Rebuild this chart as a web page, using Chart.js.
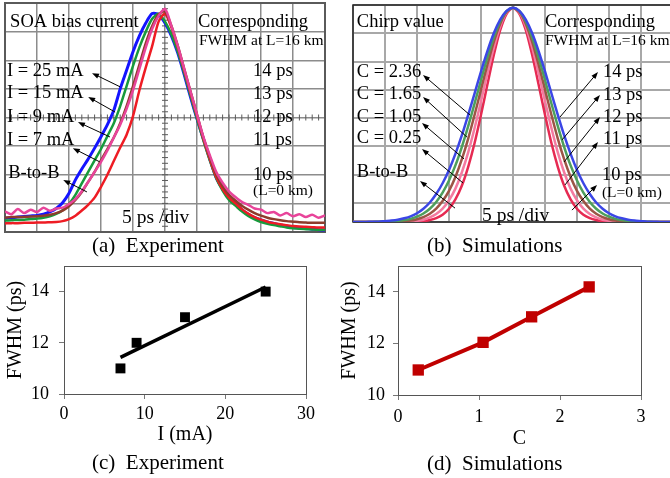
<!DOCTYPE html>
<html>
<head>
<meta charset="utf-8">
<script src="https://cdn.jsdelivr.net/npm/chart.js@4.4.1/dist/chart.umd.min.js"></script>
<style>
  html, body { margin: 0; padding: 0; background: #fff; }
  body { width: 670px; height: 478px; position: relative; overflow: hidden; font-family: "Liberation Serif", "Times New Roman", serif; }
  canvas { position: absolute; }
  .pie { position: absolute; font-size: 21px; line-height: 21px; white-space: pre; color: #000; }
</style>
</head>
<body>
<canvas id="grafA" width="335" height="240" style="left:0;top:0"></canvas>
<canvas id="grafB" width="345" height="240" style="left:335px;top:0"></canvas>
<canvas id="grafC" width="330" height="204" style="left:0;top:256px"></canvas>
<canvas id="grafD" width="335" height="204" style="left:335px;top:256px"></canvas>
<div class="pie" style="left:92px;top:235px">(a)  Experiment</div>
<div class="pie" style="left:427px;top:235px">(b)  Simulations</div>
<div class="pie" style="left:92px;top:452px">(c)  Experiment</div>
<div class="pie" style="left:427px;top:453px">(d)  Simulations</div>
<script>
// Eje de tiempo comun (ps), 5 ps por division
const tiempo = [-25,-24,-23,-22,-21,-20,-19,-18,-17,-16,-15,-14,-13,-12,-11,-10,-9,-8,-7,-6,-5,-4,-3,-2,-1,
  0,1,2,3,4,5,6,7,8,9,10,11,12,13,14,15,16,17,18,19,20,21,22,23,24,25];

// (a) Trazas medidas (divisiones verticales)
const medida25mA = [0.48,0.50,0.52,0.54,0.56,0.58,0.62,0.70,0.82,1.02,1.35,1.82,2.20,2.55,2.93,3.33,3.75,4.25,5.00,5.65,6.30,6.85,7.30,7.63,7.60,
  7.30,6.85,6.25,5.50,4.70,3.95,3.25,2.55,1.90,1.50,1.18,1.00,0.78,0.62,0.50,0.42,0.35,0.30,0.25,0.20,0.16,0.14,0.12,0.10,0.08,0.07];
const medida15mA = [0.40,0.41,0.42,0.43,0.45,0.47,0.50,0.55,0.63,0.76,0.98,1.30,1.70,2.10,2.50,2.90,3.35,3.80,4.40,5.10,5.80,6.45,7.00,7.45,7.62,
  7.35,6.90,6.30,5.55,4.75,3.95,3.20,2.50,1.88,1.45,1.12,0.92,0.72,0.56,0.44,0.35,0.29,0.24,0.20,0.16,0.13,0.11,0.10,0.09,0.08,0.08];
const medida9mA = [0.50,0.52,0.52,0.53,0.54,0.55,0.57,0.60,0.66,0.75,0.90,1.12,1.40,1.75,2.10,2.50,2.90,3.30,3.80,4.40,5.10,5.85,6.60,7.20,7.60,
  7.70,7.20,6.50,5.70,4.90,4.10,3.30,2.62,2.02,1.60,1.30,1.10,0.92,0.78,0.66,0.57,0.50,0.45,0.41,0.38,0.36,0.34,0.33,0.32,0.32,0.32];
const medida7mA = [0.72,0.62,0.80,0.66,0.78,0.70,0.85,0.74,0.82,0.85,0.98,1.15,1.42,1.75,2.10,2.45,2.85,3.30,3.75,4.30,4.95,5.70,6.45,7.10,7.55,
  7.80,7.20,6.50,5.70,4.90,4.10,3.32,2.68,2.10,1.72,1.42,1.22,1.05,0.95,0.82,0.78,0.66,0.70,0.58,0.66,0.55,0.62,0.52,0.60,0.50,0.58];
const medidaBtoB = [0.30,0.31,0.31,0.32,0.32,0.33,0.33,0.34,0.35,0.38,0.45,0.57,0.75,0.95,1.20,1.58,2.00,2.48,2.95,3.40,4.05,4.95,5.75,6.50,7.35,
  7.62,7.15,6.45,5.65,4.85,4.05,3.25,2.55,1.92,1.50,1.20,1.00,0.80,0.64,0.52,0.43,0.36,0.31,0.27,0.24,0.21,0.19,0.18,0.17,0.16,0.16];

// (b) Pulsos simulados (divisiones verticales)
const simC236 = [0.33,0.33,0.33,0.34,0.34,0.36,0.38,0.41,0.46,0.53,0.64,0.80,1.02,1.32,1.70,2.17,2.74,3.39,4.12,4.88,5.65,6.37,7.00,7.48,7.79,
  7.90,7.79,7.48,7.00,6.37,5.65,4.88,4.12,3.39,2.74,2.17,1.70,1.32,1.02,0.80,0.64,0.53,0.46,0.41,0.38,0.36,0.34,0.34,0.33,0.33,0.33];
const simC165 = [0.33,0.33,0.33,0.33,0.34,0.34,0.35,0.37,0.40,0.44,0.52,0.63,0.80,1.04,1.37,1.80,2.33,2.98,3.72,4.52,5.35,6.15,6.86,7.42,7.78,
  7.90,7.78,7.42,6.86,6.15,5.35,4.52,3.72,2.98,2.33,1.80,1.37,1.04,0.80,0.63,0.52,0.44,0.40,0.37,0.35,0.34,0.34,0.33,0.33,0.33,0.33];
const simC105 = [0.33,0.33,0.33,0.33,0.33,0.33,0.34,0.35,0.36,0.38,0.43,0.50,0.62,0.80,1.07,1.43,1.92,2.54,3.28,4.12,5.01,5.89,6.70,7.34,7.76,
  7.90,7.76,7.34,6.70,5.89,5.01,4.12,3.28,2.54,1.92,1.43,1.07,0.80,0.62,0.50,0.43,0.38,0.36,0.35,0.34,0.33,0.33,0.33,0.33,0.33,0.33];
const simC025 = [0.33,0.33,0.33,0.33,0.33,0.33,0.33,0.33,0.34,0.35,0.37,0.41,0.49,0.61,0.80,1.10,1.51,2.08,2.79,3.65,4.60,5.58,6.49,7.24,7.73,
  7.90,7.73,7.24,6.49,5.58,4.60,3.65,2.79,2.08,1.51,1.10,0.80,0.61,0.49,0.41,0.37,0.35,0.34,0.33,0.33,0.33,0.33,0.33,0.33,0.33,0.33];
const simBtoB = [0.33,0.33,0.33,0.33,0.33,0.33,0.33,0.33,0.33,0.34,0.35,0.36,0.40,0.47,0.59,0.80,1.13,1.61,2.28,3.12,4.12,5.19,6.23,7.11,7.69,
  7.90,7.69,7.11,6.23,5.19,4.12,3.12,2.28,1.61,1.13,0.80,0.59,0.47,0.40,0.36,0.35,0.34,0.33,0.33,0.33,0.33,0.33,0.33,0.33,0.33,0.33];

// (c) FWHM medido frente a corriente
const corriente = [7, 9, 15, 25];
const fwhmMedido = [11, 12, 13, 14];
const ajusteX = [7, 25];
const ajusteY = [11.43, 14.18];
const ticksCorriente = [0, 10, 20, 30];

// (d) FWHM simulado frente a chirp
const chirp = [0.25, 1.05, 1.65, 2.36];
const fwhmSimulado = [10.97, 12.04, 13.03, 14.19];
const ticksChirp = [0, 1, 2, 3];

const ticksFwhm = [10, 12, 14];

// Textos de las anotaciones
const textosA = ['SOA bias current', 'Corresponding', 'FWHM at L=16 km', 'I = 25 mA', 'I = 15 mA', 'I = 9 mA', 'I = 7 mA', 'B-to-B',
  '14 ps', '13 ps', '12 ps', '11 ps', '10 ps', '(L=0 km)', '5 ps /div'];
const textosB = ['Chirp value', 'Corresponding', 'FWHM at L=16 km', 'C = 2.36', 'C = 1.65', 'C = 1.05', 'C = 0.25', 'B-to-B',
  '14 ps', '13 ps', '12 ps', '11 ps', '10 ps', '(L=0 km)', '5 ps /div'];

// Posicion (unidades de los ejes) y tamaño de cada texto
const lugaresA = [[-24.2,7.16,18.5],[5.16,7.16,18.5],[5.3,6.53,15.5],[-24.7,5.45,18.5],[-24.7,4.68,18.5],[-24.7,3.84,18.5],[-24.7,3.04,18.5],[-24.5,1.89,18.5],
  [13.75,5.45,18.5],[13.75,4.65,18.5],[13.75,3.84,18.5],[13.75,3.04,18.5],[13.75,1.82,18.5],[13.75,1.29,15.5],[-6.7,0.31,19.5]];
const lugaresB = [[-24.4,7.22,18.5],[5.0,7.22,18.5],[5.0,6.59,15.5],[-24.4,5.45,18.5],[-24.4,4.68,18.5],[-24.4,3.86,18.5],[-24.4,3.12,18.5],[-24.4,1.92,18.5],
  [14.06,5.45,18.5],[14.06,4.64,18.5],[14.06,3.86,18.5],[14.06,3.09,18.5],[13.9,1.81,18.5],[13.9,1.21,15.5],[-4.84,0.36,19.5]];
// Flechas: punta x, punta y, cola x, cola y
const flechasA = [[-11.4,5.55,-7.0,5.07],[-12.0,4.72,-7.8,4.19],[-13.6,3.84,-8.6,3.32],[-14.4,2.93,-10.2,2.45],[-15.9,1.82,-12.2,1.40]];
const flechasB = [[-14.06,5.53,-6.72,4.11],[-14.06,4.75,-7.19,3.33],[-14.22,3.83,-7.66,2.56],[-14.22,2.91,-7.81,1.71],[-14.53,1.78,-9.06,0.82],
  [13.28,5.63,7.34,4.04],[13.59,4.82,7.66,3.23],[13.59,4.04,7.97,2.45],[13.28,3.16,8.13,1.64],[13.13,1.64,9.22,0.75]];

const serif = '"Liberation Serif", "Times New Roman", serif';
Chart.defaults.font.family = serif;
Chart.defaults.color = '#000';

function puntos(xs, ys) {
    return xs.map((x, i) => ({x: x, y: ys[i]}));
}

function trazo(valores, color, ancho) {
    return {
        data: puntos(tiempo, valores),
        borderColor: color,
        borderWidth: ancho,
        pointRadius: 0,
        tension: 0.25,
        fill: false
    };
}

// Textos y flechas encima de las curvas
function notas(textos, lugares, flechas) {
    return {
        id: 'notas',
        afterDatasetsDraw(chart) {
            const ctx = chart.ctx, sx = chart.scales.x, sy = chart.scales.y;
            ctx.save();
            ctx.fillStyle = '#000';
            ctx.textBaseline = 'alphabetic';
            textos.forEach((t, i) => {
                const l = lugares[i];
                ctx.font = l[2] + 'px ' + serif;
                ctx.fillText(t, sx.getPixelForValue(l[0]), sy.getPixelForValue(l[1]));
            });
            ctx.strokeStyle = '#000';
            ctx.lineWidth = 1;
            flechas.forEach(f => {
                const x2 = sx.getPixelForValue(f[0]), y2 = sy.getPixelForValue(f[1]);
                const x1 = sx.getPixelForValue(f[2]), y1 = sy.getPixelForValue(f[3]);
                const ang = Math.atan2(y2 - y1, x2 - x1);
                ctx.beginPath();
                ctx.moveTo(x1, y1);
                ctx.lineTo(x2 - 5 * Math.cos(ang), y2 - 5 * Math.sin(ang));
                ctx.stroke();
                ctx.beginPath();
                ctx.moveTo(x2, y2);
                ctx.lineTo(x2 - 7 * Math.cos(ang) + 2.6 * Math.sin(ang), y2 - 7 * Math.sin(ang) - 2.6 * Math.cos(ang));
                ctx.lineTo(x2 - 7 * Math.cos(ang) - 2.6 * Math.sin(ang), y2 - 7 * Math.sin(ang) + 2.6 * Math.cos(ang));
                ctx.closePath();
                ctx.fill();
            });
            ctx.restore();
        }
    };
}

// Marco de la pantalla y marcas de los ejes centrales del osciloscopio
function marco(color, ancho, marcasCentro) {
    return {
        id: 'marco',
        beforeDatasetsDraw(chart) {
            const ctx = chart.ctx, a = chart.chartArea, sx = chart.scales.x, sy = chart.scales.y;
            ctx.save();
            ctx.strokeStyle = color;
            ctx.lineWidth = ancho;
            ctx.strokeRect(a.left, a.top, a.right - a.left, a.bottom - a.top);
            if (marcasCentro) {
                ctx.lineWidth = 1;
                const cx = sx.getPixelForValue(0), cy = sy.getPixelForValue(4);
                ctx.beginPath();
                for (let t = sx.min; t <= sx.max; t += 1) {
                    const px = sx.getPixelForValue(t);
                    ctx.moveTo(px, cy - 3); ctx.lineTo(px, cy + 3);
                }
                for (let v = sy.min; v <= sy.max; v += 0.2) {
                    const py = sy.getPixelForValue(v);
                    ctx.moveTo(cx - 3, py); ctx.lineTo(cx + 3, py);
                }
                ctx.stroke();
            }
            ctx.restore();
        }
    };
}

function escalasPantalla(ymin, colorRejilla, anchoRejilla) {
    return {
        x: {
            type: 'linear', min: -25, max: 25,
            ticks: {display: false, stepSize: 5},
            grid: {color: colorRejilla, lineWidth: anchoRejilla, drawTicks: false},
            border: {display: false},
            afterFit: s => { s.height = 0; s.paddingLeft = 0; s.paddingRight = 0; }
        },
        y: {
            type: 'linear', min: ymin, max: 8,
            ticks: {display: false, stepSize: 1},
            grid: {color: colorRejilla, lineWidth: anchoRejilla, drawTicks: false},
            border: {display: false},
            afterFit: s => { s.width = 0; s.paddingTop = 0; s.paddingBottom = 0; }
        }
    };
}

const sinExtras = {legend: {display: false}, tooltip: {enabled: false}};

// Grafico (a) Experimento
new Chart(document.getElementById('grafA'), {
    type: 'line',
    data: {
        datasets: [
            trazo(medida7mA, '#e8449a', 2.5),
            trazo(medida9mA, '#8e3b2c', 2.5),
            trazo(medidaBtoB, '#ee1c24', 2.5),
            trazo(medida15mA, '#179a3c', 2.5),
            trazo(medida25mA, '#1414ff', 3)
        ]
    },
    options: {
        responsive: false, animation: false, devicePixelRatio: 1,
        layout: {padding: {left: 5, top: 3, right: 10, bottom: 8}},
        plugins: sinExtras,
        scales: escalasPantalla(0, '#8c8c8c', 1.5)
    },
    plugins: [marco('#5a5a5a', 2, true), notas(textosA, lugaresA, flechasA)]
});

// Grafico (b) Simulaciones
new Chart(document.getElementById('grafB'), {
    type: 'line',
    data: {
        datasets: [
            trazo(simC236, '#3b46e6', 2.5),
            trazo(simC165, '#4d9e5c', 2.5),
            trazo(simC105, '#9c5445', 2.5),
            trazo(simC025, '#f47aa0', 2.5),
            trazo(simBtoB, '#e62a52', 2.5)
        ]
    },
    options: {
        responsive: false, animation: false, devicePixelRatio: 1,
        layout: {padding: {left: 18, top: 5, right: 7, bottom: 18}},
        plugins: sinExtras,
        scales: escalasPantalla(0.33, '#a8a8a8', 2)
    },
    plugins: [marco('#222', 1.5, false), notas(textosB, lugaresB, flechasB)]
});

// Caja alrededor del area de datos
const caja = {
    id: 'caja',
    afterDraw(chart) {
        const ctx = chart.ctx, a = chart.chartArea;
        ctx.save();
        ctx.strokeStyle = '#555';
        ctx.lineWidth = 1;
        ctx.strokeRect(a.left + 0.5, a.top + 0.5, a.right - a.left, a.bottom - a.top);
        ctx.restore();
    }
};

function escalasFwhm(xmin, xmax, ticksX, tituloX, cfg) {
    return {
        x: {
            type: 'linear', min: xmin, max: xmax,
            afterBuildTicks: s => { s.ticks = ticksX.map(v => ({value: v})); },
            afterFit: s => { s.height = cfg.altoX; s.paddingLeft = 0; s.paddingRight = 0; },
            ticks: {color: '#000', font: {size: 18}, padding: cfg.padTickX, maxRotation: 0, autoSkip: false},
            grid: {drawOnChartArea: false, drawTicks: true, tickLength: 5, color: '#777'},
            border: {color: '#777'},
            title: {display: true, text: tituloX, color: '#000', font: {size: 20}, padding: {top: 0, bottom: cfg.padTituloX}}
        },
        y: {
            type: 'linear', min: 10, max: 15,
            afterBuildTicks: s => { s.ticks = ticksFwhm.map(v => ({value: v})); },
            afterFit: s => { s.width = cfg.anchoY; s.paddingTop = 0; s.paddingBottom = 0; },
            ticks: {color: '#000', font: {size: 18}, padding: cfg.padTickY},
            grid: {drawOnChartArea: false, drawTicks: true, tickLength: 5, color: '#777'},
            border: {color: '#777'},
            title: {display: true, text: 'FWHM (ps)', color: '#000', font: {size: 20}, padding: {top: cfg.padTituloY, bottom: 0}}
        }
    };
}

// Grafico (c) Experimento
new Chart(document.getElementById('grafC'), {
    type: 'scatter',
    data: {
        datasets: [{
            data: puntos(ajusteX, ajusteY),
            showLine: true, borderColor: '#000', borderWidth: 3.5, pointRadius: 0
        }, {
            data: puntos(corriente, fwhmMedido),
            pointStyle: 'rect', pointRadius: 7, borderWidth: 0,
            backgroundColor: '#000', borderColor: '#000'
        }]
    },
    options: {
        responsive: false, animation: false, devicePixelRatio: 1,
        layout: {padding: {left: 0, top: 10, right: 24, bottom: 0}},
        plugins: sinExtras,
        scales: escalasFwhm(0, 30, ticksCorriente, 'I (mA)', {altoX: 66, padTickX: 4, padTituloX: 13, anchoY: 64, padTickY: 10, padTituloY: 4})
    },
    plugins: [caja]
});

// Grafico (d) Simulaciones
new Chart(document.getElementById('grafD'), {
    type: 'scatter',
    data: {
        datasets: [{
            data: puntos(chirp, fwhmSimulado),
            showLine: true, borderColor: '#c00000', borderWidth: 4,
            pointStyle: 'rect', pointRadius: 8, pointBorderWidth: 0,
            pointBackgroundColor: '#c00000'
        }]
    },
    options: {
        responsive: false, animation: false, devicePixelRatio: 1,
        layout: {padding: {left: 0, top: 10, right: 29, bottom: 0}},
        plugins: sinExtras,
        scales: escalasFwhm(0, 3, ticksChirp, 'C', {altoX: 65, padTickX: 6, padTituloX: 9, anchoY: 63, padTickY: 8, padTituloY: 3})
    },
    plugins: [caja]
});
</script>
</body>
</html>
